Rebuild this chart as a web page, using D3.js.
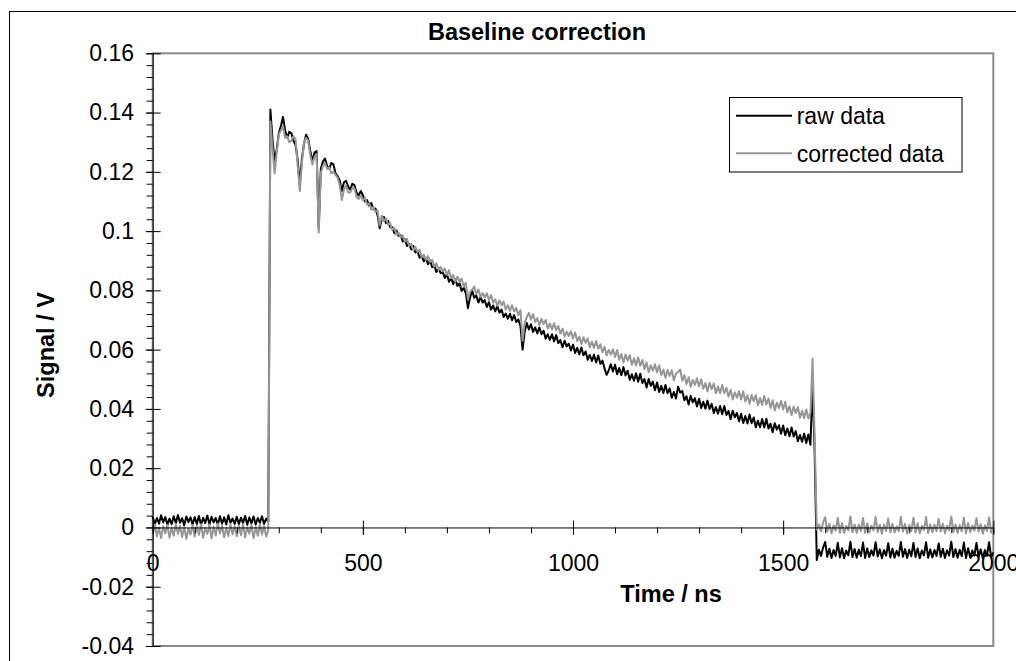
<!DOCTYPE html>
<html>
<head>
<meta charset="utf-8">
<script src="https://cdn.jsdelivr.net/npm/d3@7"></script>
<style>
body { margin: 0; background: #fff; }
svg { display: block; font-family: "Liberation Sans", Arial, sans-serif; }
</style>
</head>
<body>
<script>
var w = 1016;
var h = 661;

// scope samples, one every 5 ns
var timeNs = d3.range(0, 2001, 5);

// signal in V (each row = 100 ns)
var rawData = [
  0.0037, 0.0010, 0.0032, 0.0013, 0.0041, 0.0017, 0.0035, 0.0009, 0.0030, 0.0011, 0.0038, 0.0014, 0.0042, 0.0016, 0.0031, 0.0007, 0.0037, 0.0018, 0.0034, 0.0010,
  0.0035, 0.0012, 0.0039, 0.0008, 0.0033, 0.0015, 0.0040, 0.0011, 0.0036, 0.0017, 0.0032, 0.0009, 0.0038, 0.0013, 0.0034, 0.0010, 0.0041, 0.0016, 0.0030, 0.0012,
  0.0036, 0.0011, 0.0033, 0.0015, 0.0039, 0.0009, 0.0034, 0.0014, 0.0037, 0.0010, 0.0032, 0.0016, 0.0038, 0.0012, 0.0030, 0.0020, 0.1410, 0.1310, 0.1235, 0.1275,
  0.1330, 0.1355, 0.1385, 0.1340, 0.1315, 0.1335, 0.1330, 0.1305, 0.1290, 0.1240, 0.1155, 0.1245, 0.1295, 0.1325, 0.1310, 0.1270, 0.1235, 0.1265, 0.1270, 0.1010,
  0.1210, 0.1235, 0.1245, 0.1220, 0.1210, 0.1230, 0.1225, 0.1195, 0.1185, 0.1170, 0.1135, 0.1165, 0.1170, 0.1150, 0.1140, 0.1160, 0.1155, 0.1130, 0.1120, 0.1135,
  0.1122, 0.1100, 0.1105, 0.1086, 0.1095, 0.1074, 0.1076, 0.1054, 0.1010, 0.1040, 0.1048, 0.1027, 0.1035, 0.1013, 0.1014, 0.0993, 0.1002, 0.0984, 0.0986, 0.0965,
  0.0973, 0.0950, 0.0957, 0.0938, 0.0950, 0.0928, 0.0933, 0.0910, 0.0917, 0.0898, 0.0909, 0.0888, 0.0901, 0.0878, 0.0883, 0.0862, 0.0875, 0.0858, 0.0862, 0.0842,
  0.0855, 0.0829, 0.0842, 0.0821, 0.0838, 0.0815, 0.0824, 0.0798, 0.0809, 0.0790, 0.0740, 0.0775, 0.0800, 0.0775, 0.0783, 0.0759, 0.0778, 0.0759, 0.0767, 0.0744,
  0.0760, 0.0735, 0.0749, 0.0729, 0.0747, 0.0725, 0.0735, 0.0710, 0.0722, 0.0704, 0.0721, 0.0699, 0.0717, 0.0693, 0.0702, 0.0679, 0.0600, 0.0660, 0.0690, 0.0668,
  0.0686, 0.0660, 0.0675, 0.0655, 0.0675, 0.0652, 0.0664, 0.0637, 0.0652, 0.0633, 0.0652, 0.0628, 0.0649, 0.0622, 0.0632, 0.0608, 0.0630, 0.0611, 0.0620, 0.0597,
  0.0617, 0.0589, 0.0606, 0.0584, 0.0607, 0.0581, 0.0594, 0.0566, 0.0582, 0.0562, 0.0583, 0.0557, 0.0580, 0.0552, 0.0563, 0.0537, 0.0515, 0.0530, 0.0551, 0.0526,
  0.0549, 0.0517, 0.0538, 0.0514, 0.0541, 0.0513, 0.0529, 0.0498, 0.0517, 0.0495, 0.0520, 0.0492, 0.0519, 0.0487, 0.0501, 0.0472, 0.0501, 0.0478, 0.0492, 0.0463,
  0.0489, 0.0457, 0.0478, 0.0454, 0.0481, 0.0453, 0.0469, 0.0438, 0.0457, 0.0435, 0.0475, 0.0455, 0.0460, 0.0429, 0.0443, 0.0415, 0.0444, 0.0422, 0.0436, 0.0408,
  0.0434, 0.0403, 0.0424, 0.0401, 0.0428, 0.0400, 0.0417, 0.0386, 0.0406, 0.0384, 0.0410, 0.0382, 0.0410, 0.0379, 0.0393, 0.0365, 0.0394, 0.0372, 0.0386, 0.0358,
  0.0384, 0.0352, 0.0376, 0.0351, 0.0381, 0.0352, 0.0371, 0.0338, 0.0360, 0.0338, 0.0366, 0.0337, 0.0367, 0.0334, 0.0350, 0.0321, 0.0352, 0.0330, 0.0345, 0.0316,
  0.0344, 0.0311, 0.0334, 0.0308, 0.0337, 0.0307, 0.0325, 0.0291, 0.0312, 0.0289, 0.0316, 0.0285, 0.0314, 0.0279, 0.0488, 0.0250, -0.0110, -0.0075, -0.0096, -0.0068,
  -0.0049, -0.0099, -0.0072, -0.0103, -0.0076, -0.0096, -0.0052, -0.0101, -0.0070, -0.0104, -0.0078, -0.0094, -0.0048, -0.0100, -0.0073, -0.0102, -0.0075, -0.0097, -0.0051, -0.0103,
  -0.0071, -0.0100, -0.0077, -0.0095, -0.0050, -0.0098, -0.0074, -0.0104, -0.0076, -0.0095, -0.0053, -0.0101, -0.0072, -0.0102, -0.0079, -0.0096, -0.0049, -0.0099, -0.0073, -0.0103,
  -0.0075, -0.0097, -0.0052, -0.0100, -0.0071, -0.0104, -0.0078, -0.0094, -0.0050, -0.0102, -0.0074, -0.0101, -0.0076, -0.0096, -0.0054, -0.0099, -0.0072, -0.0103, -0.0077, -0.0095,
  -0.0048, -0.0100, -0.0073, -0.0102, -0.0075, -0.0097, -0.0051, -0.0103, -0.0070, -0.0101, -0.0078, -0.0095, -0.0052, -0.0099, -0.0074, -0.0104, -0.0076, -0.0096, -0.0050, -0.0101,
  -0.0084
];

var correctedData = [
  -0.0026, 0.0010, -0.0030, -0.0002, -0.0036, 0.0004, -0.0020, 0.0008, -0.0034, 0.0000, -0.0028, 0.0012, -0.0022, 0.0006, -0.0032, 0.0002, -0.0038, -0.0004, -0.0024, 0.0008,
  -0.0031, 0.0006, -0.0025, 0.0011, -0.0035, -0.0001, -0.0022, 0.0009, -0.0037, 0.0003, -0.0027, 0.0013, -0.0020, 0.0005, -0.0033, -0.0002, -0.0029, 0.0010, -0.0023, 0.0004,
  -0.0030, 0.0007, -0.0026, 0.0012, -0.0034, 0.0001, -0.0021, 0.0009, -0.0036, 0.0002, -0.0028, 0.0010, -0.0024, 0.0005, -0.0031, -0.0008, 0.1370, 0.1280, 0.1195, 0.1265,
  0.1325, 0.1340, 0.1355, 0.1315, 0.1320, 0.1300, 0.1305, 0.1320, 0.1310, 0.1220, 0.1135, 0.1230, 0.1300, 0.1315, 0.1305, 0.1255, 0.1225, 0.1250, 0.1260, 0.0995,
  0.1195, 0.1220, 0.1230, 0.1210, 0.1215, 0.1195, 0.1200, 0.1190, 0.1180, 0.1155, 0.1105, 0.1140, 0.1155, 0.1130, 0.1130, 0.1145, 0.1145, 0.1115, 0.1108, 0.1120,
  0.1104, 0.1112, 0.1089, 0.1093, 0.1072, 0.1081, 0.1065, 0.1069, 0.1020, 0.1052, 0.1034, 0.1043, 0.1022, 0.1026, 0.1004, 0.1011, 0.0988, 0.0994, 0.0979, 0.0985,
  0.0964, 0.0974, 0.0950, 0.0957, 0.0935, 0.0947, 0.0930, 0.0937, 0.0912, 0.0921, 0.0903, 0.0916, 0.0896, 0.0903, 0.0881, 0.0891, 0.0868, 0.0879, 0.0865, 0.0874,
  0.0852, 0.0868, 0.0841, 0.0852, 0.0829, 0.0846, 0.0829, 0.0840, 0.0812, 0.0826, 0.0770, 0.0795, 0.0802, 0.0813, 0.0788, 0.0803, 0.0777, 0.0791, 0.0776, 0.0790,
  0.0767, 0.0784, 0.0758, 0.0770, 0.0748, 0.0766, 0.0750, 0.0762, 0.0735, 0.0750, 0.0731, 0.0750, 0.0729, 0.0741, 0.0717, 0.0733, 0.0630, 0.0690, 0.0710, 0.0724,
  0.0702, 0.0720, 0.0693, 0.0706, 0.0683, 0.0704, 0.0686, 0.0700, 0.0671, 0.0688, 0.0668, 0.0689, 0.0666, 0.0680, 0.0654, 0.0671, 0.0644, 0.0661, 0.0646, 0.0662,
  0.0638, 0.0658, 0.0629, 0.0644, 0.0619, 0.0642, 0.0623, 0.0638, 0.0608, 0.0627, 0.0606, 0.0629, 0.0603, 0.0618, 0.0591, 0.0610, 0.0581, 0.0599, 0.0583, 0.0601,
  0.0575, 0.0599, 0.0566, 0.0585, 0.0557, 0.0584, 0.0563, 0.0582, 0.0548, 0.0571, 0.0547, 0.0574, 0.0546, 0.0565, 0.0534, 0.0557, 0.0524, 0.0547, 0.0529, 0.0551,
  0.0523, 0.0547, 0.0514, 0.0533, 0.0505, 0.0532, 0.0511, 0.0530, 0.0496, 0.0519, 0.0525, 0.0533, 0.0495, 0.0514, 0.0484, 0.0507, 0.0475, 0.0498, 0.0481, 0.0503,
  0.0476, 0.0500, 0.0468, 0.0487, 0.0460, 0.0488, 0.0467, 0.0486, 0.0453, 0.0476, 0.0453, 0.0481, 0.0453, 0.0472, 0.0441, 0.0465, 0.0432, 0.0456, 0.0438, 0.0460,
  0.0432, 0.0459, 0.0425, 0.0446, 0.0417, 0.0447, 0.0426, 0.0447, 0.0412, 0.0437, 0.0413, 0.0444, 0.0415, 0.0435, 0.0403, 0.0429, 0.0395, 0.0421, 0.0403, 0.0427,
  0.0398, 0.0424, 0.0389, 0.0409, 0.0379, 0.0408, 0.0386, 0.0406, 0.0370, 0.0394, 0.0369, 0.0398, 0.0368, 0.0387, 0.0570, 0.0300, -0.0008, 0.0010, -0.0013, 0.0017,
  0.0035, -0.0014, 0.0013, -0.0020, 0.0007, -0.0011, 0.0033, -0.0018, 0.0015, -0.0019, 0.0005, -0.0010, 0.0037, -0.0016, 0.0010, -0.0019, 0.0009, -0.0012, 0.0032, -0.0018,
  0.0014, -0.0017, 0.0006, -0.0010, 0.0035, -0.0015, 0.0009, -0.0021, 0.0010, -0.0012, 0.0030, -0.0016, 0.0013, -0.0017, 0.0004, -0.0013, 0.0036, -0.0014, 0.0012, -0.0020,
  0.0008, -0.0012, 0.0033, -0.0017, 0.0014, -0.0020, 0.0005, -0.0009, 0.0035, -0.0019, 0.0010, -0.0016, 0.0009, -0.0013, 0.0029, -0.0014, 0.0013, -0.0020, 0.0006, -0.0010,
  0.0037, -0.0015, 0.0010, -0.0019, 0.0008, -0.0013, 0.0033, -0.0020, 0.0015, -0.0016, 0.0006, -0.0011, 0.0031, -0.0014, 0.0011, -0.0021, 0.0007, -0.0012, 0.0034, -0.0017,
  0.0001
];

var seriesNames = ["raw data", "corrected data"];
var seriesColors = ["#000000", "#969696"];

var xTicks = [0, 500, 1000, 1500, 2000];
var xTickLabels = ["0", "500", "1000", "1500", "2000"];
var xMinorTicks = d3.range(0, 2001, 100);
var yTicks = [-0.04, -0.02, 0, 0.02, 0.04, 0.06, 0.08, 0.1, 0.12, 0.14, 0.16];
var yTickLabels = ["-0.04", "-0.02", "0", "0.02", "0.04", "0.06", "0.08", "0.1", "0.12", "0.14", "0.16"];
var yMinorTicks = d3.range(0, 51).map(function(i) { return -0.04 + i * 0.004; });

var plotLeft = 152.7, plotRight = 993.3, plotTop = 53.3, plotBottom = 646;

var xScale = d3.scaleLinear().domain([0, 2000]).range([plotLeft, plotRight]);
var yScale = d3.scaleLinear().domain([-0.04, 0.16]).range([plotBottom, plotTop]);

var svg = d3.select("body")
  .append("svg")
  .attr("width", w)
  .attr("height", h);

svg.append("rect").attr("width", w).attr("height", h).attr("fill", "#fff");

// chart frame (runs off the page at right/bottom)
svg.append("rect")
  .attr("x", 9.5).attr("y", 11.5)
  .attr("width", 1020).attr("height", 670)
  .attr("fill", "none")
  .attr("stroke", "#000")
  .attr("stroke-width", 1);

// plot area
svg.append("rect")
  .attr("x", plotLeft).attr("y", plotTop)
  .attr("width", plotRight - plotLeft).attr("height", plotBottom - plotTop)
  .attr("fill", "#fff")
  .attr("stroke", "#8a8a8a")
  .attr("stroke-width", 2);

svg.append("text")
  .attr("x", 537).attr("y", 40)
  .attr("text-anchor", "middle")
  .attr("font-weight", "bold")
  .attr("font-size", "23.5px")
  .text("Baseline correction");

svg.append("text")
  .attr("x", 671).attr("y", 601.7)
  .attr("text-anchor", "middle")
  .attr("font-weight", "bold")
  .attr("font-size", "23.5px")
  .text("Time / ns");

svg.append("text")
  .attr("transform", "translate(53.5,345) rotate(-90)")
  .attr("text-anchor", "middle")
  .attr("font-weight", "bold")
  .attr("font-size", "23.5px")
  .text("Signal / V");

// tick labels (under the traces)
var xLabels = svg.append("g")
  .attr("transform", "translate(0," + yScale(0) + ")")
  .call(d3.axisBottom(xScale).tickValues(xTicks).tickSize(0).tickPadding(27.7)
    .tickFormat(function(d, i) { return xTickLabels[i]; }));
var yLabels = svg.append("g")
  .attr("transform", "translate(" + plotLeft + ",0)")
  .call(d3.axisLeft(yScale).tickValues(yTicks).tickSize(0).tickPadding(18.7)
    .tickFormat(function(d, i) { return yTickLabels[i]; }));
[xLabels, yLabels].forEach(function(g) {
  g.select(".domain").remove();
  g.selectAll("text")
    .attr("font-family", "Liberation Sans, Arial, sans-serif")
    .attr("font-size", "23px")
    .attr("fill", "#000");
});

// traces
var series = [rawData, correctedData];
var line = d3.line()
  .x(function(d, i) { return xScale(timeNs[i]); })
  .y(function(d) { return yScale(d); });

svg.selectAll("path.trace")
  .data(series)
  .enter()
  .append("path")
  .attr("class", "trace")
  .attr("d", line)
  .attr("fill", "none")
  .attr("stroke", function(d, i) { return seriesColors[i]; })
  .attr("stroke-width", 2)
  .attr("stroke-linejoin", "round");

// ticks
function tickAxis(axis, transform) {
  var g = svg.append("g").attr("transform", transform).call(axis);
  g.selectAll("text").remove();
  g.selectAll("line").attr("stroke", "#000").attr("stroke-width", 1);
  return g;
}
var xT = "translate(0," + yScale(0) + ")";
var yT = "translate(" + plotLeft + ",0)";
tickAxis(d3.axisBottom(xScale).tickValues(xMinorTicks).tickSize(5.8).tickSizeOuter(0), xT).select(".domain").remove();
tickAxis(d3.axisTop(xScale).tickValues(xTicks).tickSize(6.8).tickSizeOuter(0), xT).select(".domain").remove();
tickAxis(d3.axisBottom(xScale).tickValues(xTicks).tickSize(7.5).tickSizeOuter(0), xT)
  .select(".domain").attr("stroke", "#000");
tickAxis(d3.axisLeft(yScale).tickValues(yMinorTicks).tickSize(6).tickSizeOuter(0), yT).select(".domain").remove();
tickAxis(d3.axisRight(yScale).tickValues(yTicks).tickSize(8).tickSizeOuter(0), yT).select(".domain").remove();
tickAxis(d3.axisLeft(yScale).tickValues(yTicks).tickSize(7).tickSizeOuter(0), yT)
  .select(".domain").attr("stroke", "#000");

// legend
var legend = svg.append("g").attr("transform", "translate(729.5,97.5)");
legend.append("rect")
  .attr("width", 232.5).attr("height", 74.5)
  .attr("fill", "#fff")
  .attr("stroke", "#000")
  .attr("stroke-width", 1);
var items = legend.selectAll("g.item")
  .data(seriesNames)
  .enter()
  .append("g")
  .attr("class", "item")
  .attr("transform", function(d, i) { return "translate(0," + (18.2 + i * 37.6) + ")"; });
items.append("line")
  .attr("x1", 6.5).attr("x2", 62.5)
  .attr("stroke", function(d, i) { return seriesColors[i]; })
  .attr("stroke-width", 2);
items.append("text")
  .attr("x", 67.2).attr("y", 8.4)
  .attr("font-size", "23px")
  .text(function(d) { return d; });
</script>
</body>
</html>
